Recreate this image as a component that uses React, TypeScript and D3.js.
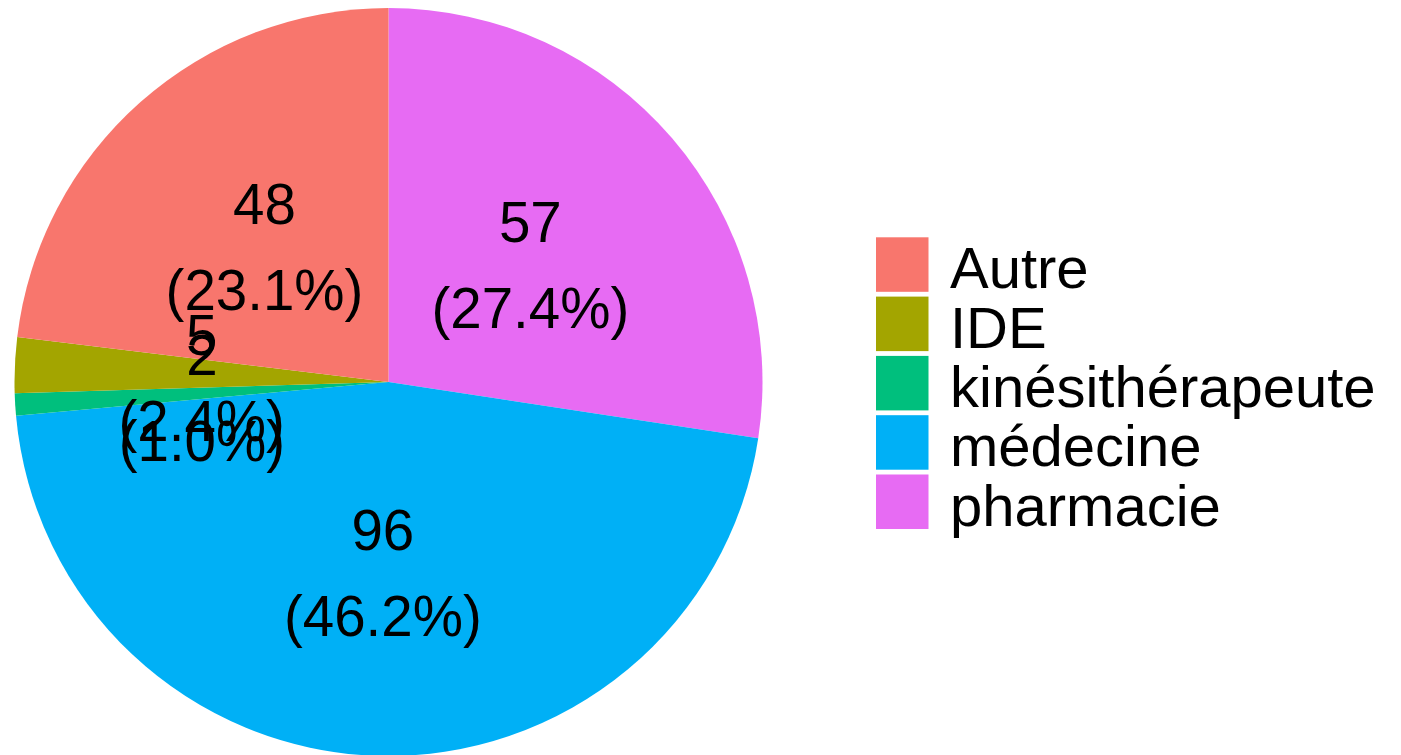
import React, { useEffect, useRef } from 'react'
import * as d3 from 'd3'

// categories in legend order, counts
const categories = ['Autre', 'IDE', 'kinésithérapeute', 'médecine', 'pharmacie']
const counts = [48, 5, 2, 96, 57]
const colors = ['#F8766D', '#A3A500', '#00BF7D', '#00B0F6', '#E76BF3']
// order of slices clockwise from 12 o'clock
const sliceOrder = ['pharmacie', 'médecine', 'kinésithérapeute', 'IDE', 'Autre']

const W = 1401
const H = 755
const FONT = '"Liberation Sans", Arial, sans-serif'

const App = () => {
  const ref = useRef<SVGSVGElement>(null)

  useEffect(() => {
    const svg = d3.select(ref.current)
    svg.selectAll('*').remove()

    const cx = 388.5
    const cy = 382
    const radius = 374
    const labelR = 187

    const total = d3.sum(counts)
    const color = d3.scaleOrdinal<string, string>().domain(categories).range(colors)

    const data = sliceOrder.map((c) => ({ cat: c, n: counts[categories.indexOf(c)] }))

    const pie = d3
      .pie<{ cat: string; n: number }>()
      .sort(null)
      .value((d) => d.n)
    const arcs = pie(data)

    const arc = d3
      .arc<d3.PieArcDatum<{ cat: string; n: number }>>()
      .innerRadius(0)
      .outerRadius(radius)

    const g = svg.append('g').attr('transform', `translate(${cx},${cy})`)

    g.selectAll('path.slice')
      .data(arcs)
      .enter()
      .append('path')
      .attr('class', 'slice')
      .attr('d', arc)
      .attr('fill', (d) => color(d.data.cat))

    // labels: count on first line, percentage below
    arcs.forEach((a) => {
      const mid = (a.startAngle + a.endAngle) / 2
      const lx = labelR * Math.sin(mid)
      const ly = -labelR * Math.cos(mid)
      const pct = d3.format('.1f')((a.data.n / total) * 100)
      const t = g
        .append('text')
        .attr('text-anchor', 'middle')
        .attr('font-family', FONT)
        .attr('font-size', 56.5)
        .attr('fill', '#000')
      t.append('tspan').attr('x', lx).attr('y', ly - 18.5).text(String(a.data.n))
      t.append('tspan').attr('x', lx).attr('y', ly + 67.5).text(`(${pct}%)`)
    })

    // legend
    const legend = svg.append('g')
    const keyY = d3
      .scaleBand()
      .domain(categories)
      .range([237.3, 237.3 + 59.3 * categories.length])
      .paddingInner(0)

    categories.forEach((c) => {
      const y0 = keyY(c) as number
      legend
        .append('rect')
        .attr('x', 876)
        .attr('y', y0)
        .attr('width', 52.5)
        .attr('height', 54.5)
        .attr('fill', color(c))
      legend
        .append('text')
        .attr('x', 950)
        .attr('y', y0 + 51)
        .attr('font-family', FONT)
        .attr('font-size', 58)
        .attr('fill', '#000')
        .text(c)
    })
  })

  return (
    <svg
      ref={ref}
      width={W}
      height={H}
      style={{ position: 'absolute', left: 0, top: 0, background: '#fff' }}
    />
  )
}

export default App
